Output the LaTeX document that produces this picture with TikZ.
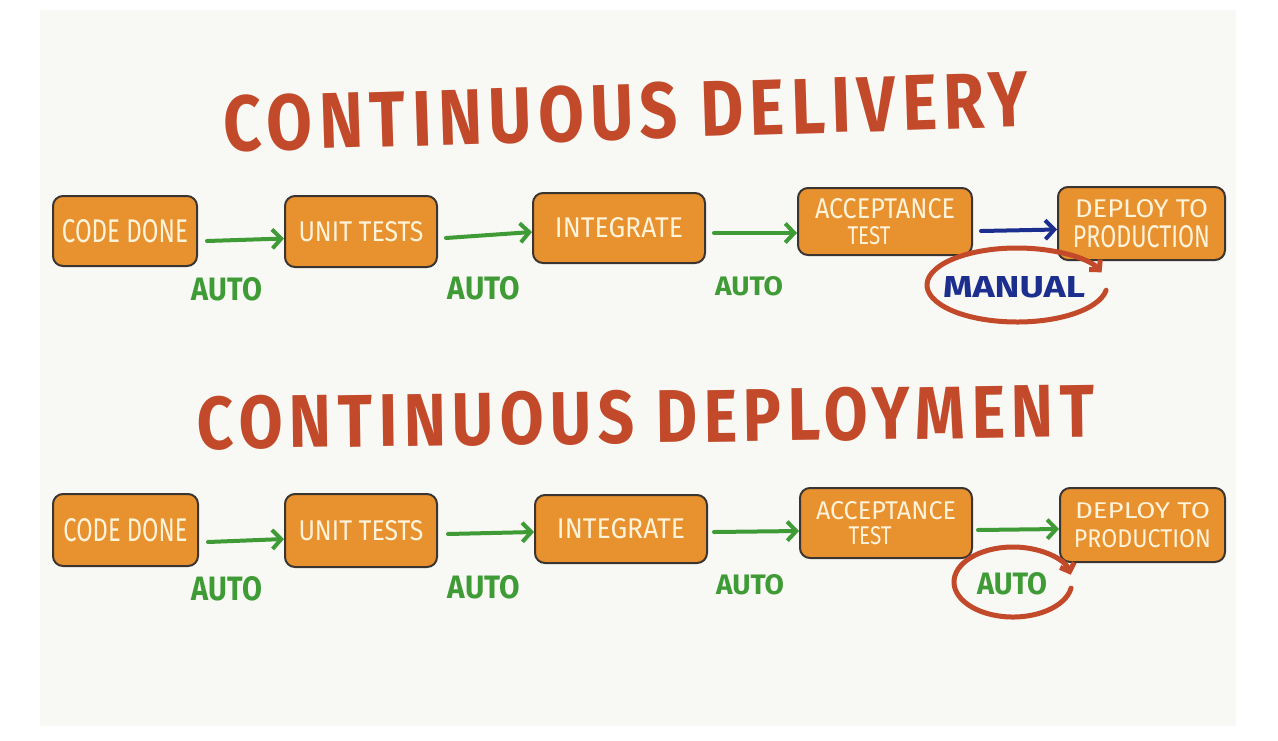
\documentclass[tikz,border=0pt]{standalone}
\usepackage{graphicx}
\usepackage{fontspec}
\setmainfont{Fira Sans}
\newfontfamily\titlefont[LetterSpace=10]{Fira Sans}
\usetikzlibrary{arrows.meta,calc}
\definecolor{panel}{HTML}{F8F8F4}
\definecolor{titlered}{HTML}{C24A2A}
\definecolor{boxfill}{HTML}{E8912F}
\definecolor{boxline}{HTML}{3A3530}
\definecolor{boxtext}{HTML}{FFF3DA}
\definecolor{autogreen}{HTML}{3E9B35}
\definecolor{manblue}{HTML}{1C2F8E}
\newcommand\handtxt[3]{\resizebox{#1pt}{#2pt}{#3}}
\begin{document}
\begin{tikzpicture}[x=1pt,y=-1pt,
  stagebox/.style={draw=boxline, line width=2pt, fill=boxfill, rounded corners=10pt,
    inner sep=0pt, text=boxtext, align=center},
  garr/.style={autogreen, line width=4pt, line cap=round,
    -{Straight Barb[length=9pt,width=19pt]}},
  barr/.style={manblue, line width=4pt, line cap=round,
    -{Straight Barb[length=9pt,width=19pt]}},
  autolbl/.style={autogreen, inner sep=0pt},
  loopline/.style={titlered, line width=5pt, line cap=round,
    -{Straight Barb[length=7pt,width=15pt]}},
  titletxt/.style={titlered, inner sep=0pt}]
\useasboundingbox (0,0) rectangle (1278,740);
\fill[panel] (40,10) rectangle (1236,726);

% titles
\node[titletxt, rotate=1.8] (t1) at (626,112) {\handtxt{805}{56}{\titlefont\bfseries CONTINUOUS DELIVERY}};
\node[titletxt, rotate=0.8] (t2) at (646,417) {\handtxt{897}{53}{\titlefont\bfseries CONTINUOUS DEPLOYMENT}};

% row 1
\node[stagebox, minimum width=144pt, minimum height=70pt] (cd1) at (125,231)
  {\handtxt{126}{23}{CODE DONE}};
\node[stagebox, minimum width=152pt, minimum height=71pt] (ut1) at (361,231.5)
  {\handtxt{125}{20}{UNIT TESTS}};
\node[stagebox, minimum width=172pt, minimum height=70pt] (in1) at (619,228)
  {\handtxt{128}{20}{INTEGRATE}};
\node[stagebox, minimum width=174pt, minimum height=67pt] (ac1) at (885,221.5)
  {\shortstack{\handtxt{140}{20}{ACCEPTANCE}\\[4pt]\handtxt{43}{18}{TEST}\hspace*{32pt}}};
\node[stagebox, minimum width=167pt, minimum height=73pt] (dp1) at (1141.5,223.5)
  {\shortstack{\handtxt{133}{18}{DEPLOY TO}\\[5pt]\handtxt{137}{22}{PRODUCTION}}};

\draw[garr] ($(cd1.east)+(9,10)$) -- ($(ut1.west)+(0,7)$);
\draw[garr] ($(ut1.east)+(8,6.5)$) -- ($(in1.west)+(0,4)$);
\draw[garr] ($(in1.east)+(8,5)$) -- ($(ac1.west)+(0,11.5)$);
\draw[barr] ($(ac1.east)+(8,9.5)$) -- ($(dp1.west)+(0,6)$);

\node[autolbl] (au11) at (227,289) {\handtxt{70}{23}{\bfseries AUTO}};
\node[autolbl] (au12) at (484,288) {\handtxt{72}{23}{\bfseries AUTO}};
\node[autolbl] (au13) at (749,286) {\handtxt{68}{19}{\bfseries AUTO}};

\node[manblue, inner sep=0pt] (man) at (1014,287) {\handtxt{142}{21}{\bfseries MANUAL}};
\coordinate (mc1) at (1017,285);
\draw[loopline] (mc1) ++(8:90 and 37) arc[start angle=8, end angle=340, x radius=90, y radius=37];

% row 2
\node[stagebox, minimum width=145pt, minimum height=72pt] (cd2) at (125.5,530)
  {\handtxt{124}{23}{CODE DONE}};
\node[stagebox, minimum width=152pt, minimum height=73pt] (ut2) at (361,530.5)
  {\handtxt{125}{20}{UNIT TESTS}};
\node[stagebox, minimum width=172pt, minimum height=68pt] (in2) at (621,529)
  {\handtxt{128}{20}{INTEGRATE}};
\node[stagebox, minimum width=172pt, minimum height=70pt] (ac2) at (886,523)
  {\shortstack{\handtxt{140}{18}{ACCEPTANCE}\\[4pt]\handtxt{43}{18}{TEST}\hspace*{32pt}}};
\node[stagebox, minimum width=165pt, minimum height=74pt] (dp2) at (1142.5,525)
  {\shortstack{\handtxt{135}{16}{DEPLOY TO}\\[8pt]\handtxt{137}{18}{PRODUCTION}}};

\draw[garr] ($(cd2.east)+(9,12)$) -- ($(ut2.west)+(0,8.5)$);
\draw[garr] ($(ut2.east)+(10,3.5)$) -- ($(in2.west)+(0,3)$);
\draw[garr] ($(in2.east)+(6,3)$) -- ($(ac2.west)+(0,8)$);
\draw[garr] ($(ac2.east)+(5,7)$) -- ($(dp2.west)+(0,4)$);

\node[autolbl] (au21) at (227,589) {\handtxt{70}{24}{\bfseries AUTO}};
\node[autolbl] (au22) at (484,587) {\handtxt{72}{23}{\bfseries AUTO}};
\node[autolbl] (au23) at (750,585) {\handtxt{68}{20}{\bfseries AUTO}};

\node[autolbl] (au24) at (1012,584) {\handtxt{70}{22}{\bfseries AUTO}};
\coordinate (mc2) at (1013,582);
\draw[loopline] (mc2) ++(10:59 and 35) arc[start angle=10, end angle=348, x radius=59, y radius=35];
\end{tikzpicture}
\end{document}
